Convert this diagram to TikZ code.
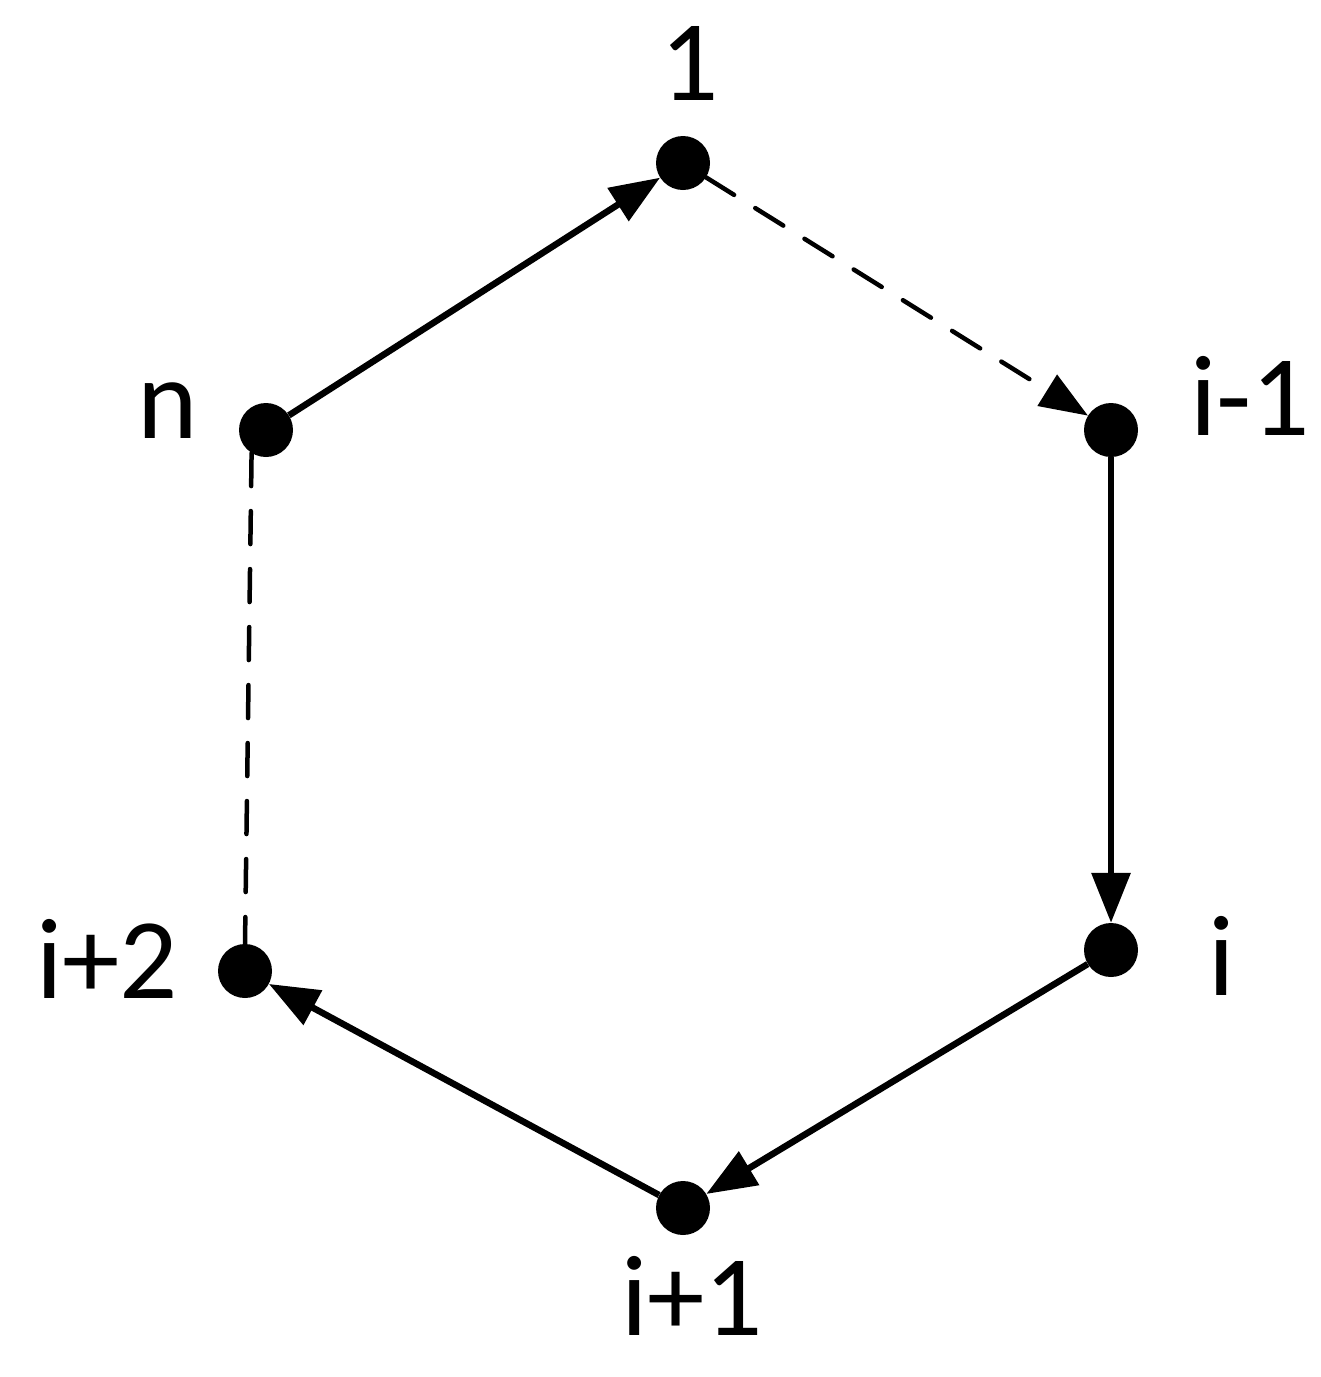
\documentclass[tikz,border=0pt]{standalone}
\usepackage{fontspec}
\setmainfont{Carlito}
\usetikzlibrary{arrows.meta}
\begin{document}
\begin{tikzpicture}[x=1pt,y=-1pt,
  vtx/.style={circle,fill=black,draw=none,inner sep=0pt,minimum size=54pt},
  lbl/.style={anchor=base,inner sep=0pt,font=\fontsize{115}{120}\selectfont},
  solidarrow/.style={line width=6.5pt,-{Triangle[length=50pt,width=38pt]}},
  dasharrow/.style={line width=4.5pt,line cap=round,dash pattern=on 33pt off 25pt,-{Triangle[length=48pt,width=36pt,line cap=butt]}},
  dashline/.style={line width=4.5pt,line cap=round,dash pattern=on 33pt off 25pt}]
\useasboundingbox (0,0) rectangle (1321,1377);
\node[vtx] (v1) at (683,163) {};
\node[vtx] (vim) at (1111,430) {};
\node[vtx] (vi) at (1111,950) {};
\node[vtx] (vip) at (683,1208) {};
\node[vtx] (vipp) at (245,971) {};
\node[vtx] (vn) at (266,430) {};
\node[lbl] (l1) at (690,100) {1};
\node[lbl] (lim) at (1250,435) {i-1};
\node[lbl] (li) at (1222,995) {i};
\node[lbl] (lip) at (692,1335) {i+1};
\node[lbl] (lipp) at (107,998) {i+2};
\node[lbl] (ln) at (168,438) {n};
\draw[solidarrow] (vn) -- (v1);
\draw[dasharrow] (v1) -- (vim);
\draw[solidarrow] (vim) -- (vi);
\draw[solidarrow] (vi) -- (vip);
\draw[solidarrow] (vip) -- (vipp);
\draw[dashline] (vn.238) -- (vipp.north);
\end{tikzpicture}
\end{document}
